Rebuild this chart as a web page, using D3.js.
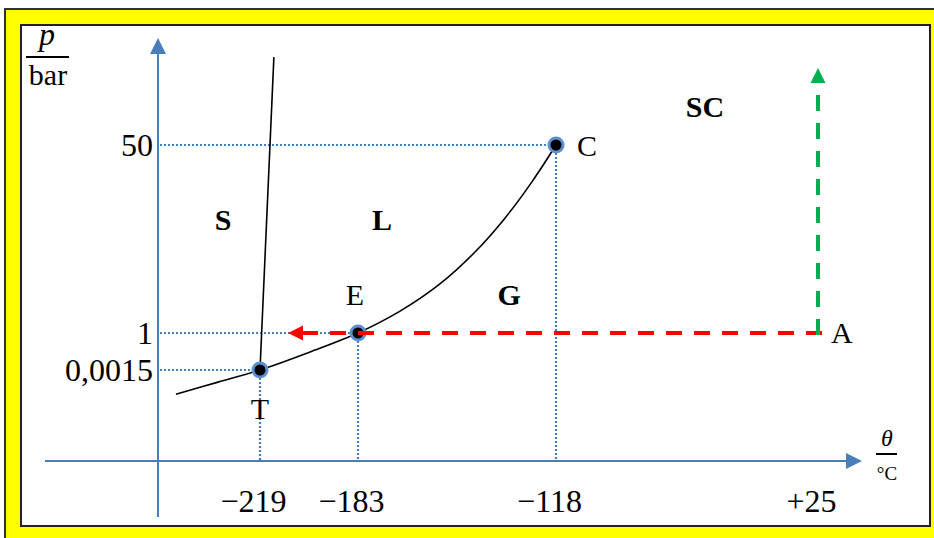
<!DOCTYPE html>
<html>
<head>
<meta charset="utf-8">
<script src="https://cdn.jsdelivr.net/npm/d3@7"></script>
<style>
  body { margin: 0; background: #fff; }
  svg { display: block; font-family: 'Liberation Serif', 'DejaVu Serif', serif; }
</style>
</head>
<body>
<div id="chart"></div>
<script>
// ---- data ----
const xTicks = [-219, -183, -118, 25]
const xTickLabels = ['\u2212219', '\u2212183', '\u2212118', '+25']
const yTicks = [0.0015, 1, 50]
const yTickLabels = ['0,0015', '1', '50']

// named points (temperature in °C, pressure in bar)
const pointNames = ['T', 'E', 'C']
const pointTemps = [-219, -183, -118]
const pointPress = [0.0015, 1, 50]

// solid/gas + liquid/gas boundary
const vapTemps = [-263.5, -241.2, -219, -200.6, -183, -169.2, -156.1, -144.6, -134.7, -125.9, -118]
const vapPress = [0.0011, 0.0013, 0.0015, 0.49, 1, 6.7, 13.8, 22.1, 31.0, 40.4, 50]

// solid/liquid boundary
const meltTemps = [-219, -213.9]
const meltPress = [0.0015, 72.9]

// state A and the two paths from it
const pointA = { t: 25, p: 1 }
const coolTo = -208.7   // isobaric cooling, red
const pressTo = 70.1    // isothermal compression, green

// ---- layout ----
const W = 934
const H = 538
const blue = '#4a7ebb'

const svg = d3.select('#chart').append('svg')
  .attr('width', W)
  .attr('height', H)

// schematic (piecewise) scales
const x = d3.scaleLinear()
  .domain([-273, -219, -183, -118, 25])
  .range([158, 260, 358, 556, 818])
const y = d3.scaleLinear()
  .domain([0, 0.0015, 1, 50])
  .range([461, 370, 333, 145])

// frame
svg.append('rect')
  .attr('x', 5).attr('y', 9)
  .attr('width', W).attr('height', H)
  .attr('fill', '#ffff00')
  .attr('stroke', '#333').attr('stroke-width', 2)
svg.append('rect')
  .attr('x', 21).attr('y', 25)
  .attr('width', 909).attr('height', 501)
  .attr('fill', '#fff')
  .attr('stroke', '#222').attr('stroke-width', 2)

// arrow markers
const defs = svg.append('defs')
function marker(id, color, len, half) {
  defs.append('marker')
    .attr('id', id)
    .attr('markerUnits', 'userSpaceOnUse')
    .attr('markerWidth', len + 2)
    .attr('markerHeight', half * 2 + 2)
    .attr('viewBox', `0 ${-half - 1} ${len + 2} ${half * 2 + 2}`)
    .attr('refX', 0).attr('refY', 0)
    .attr('orient', 'auto')
    .append('path')
    .attr('d', `M0,${-half}L${len},0L0,${half}Z`)
    .attr('fill', color)
}
marker('arrBlue', blue, 16, 8)
marker('arrRed', '#ff0000', 15, 7.5)
marker('arrGreen', '#00b050', 15, 7.5)

// axes lines (with arrows)
const xAxisY = y(0)
const yAxisX = x(-273)
svg.append('line')
  .attr('x1', 45).attr('x2', 846)
  .attr('y1', xAxisY).attr('y2', xAxisY)
  .attr('stroke', blue).attr('stroke-width', 2)
  .attr('marker-end', 'url(#arrBlue)')
svg.append('line')
  .attr('x1', yAxisX).attr('x2', yAxisX)
  .attr('y1', 517).attr('y2', 54)
  .attr('stroke', blue).attr('stroke-width', 2)
  .attr('marker-end', 'url(#arrBlue)')

// tick labels through d3 axes
const xAxis = svg.append('g')
  .attr('transform', `translate(0,${xAxisY})`)
  .call(d3.axisBottom(x)
    .tickValues(xTicks)
    .tickFormat((d, i) => xTickLabels[i])
    .tickSize(0)
    .tickPadding(28))
xAxis.select('.domain').remove()
xAxis.selectAll('text')
  .attr('font-family', 'Liberation Serif, serif')
  .attr('font-size', 32)
  .attr('fill', '#000')
  .attr('dx', -7)

const yAxis = svg.append('g')
  .attr('transform', `translate(${yAxisX},0)`)
  .call(d3.axisLeft(y)
    .tickValues(yTicks)
    .tickFormat((d, i) => yTickLabels[i])
    .tickSize(0)
    .tickPadding(5))
yAxis.select('.domain').remove()
yAxis.selectAll('text')
  .attr('font-family', 'Liberation Serif, serif')
  .attr('font-size', 32)
  .attr('fill', '#000')

// dotted guides to the named points
const guides = svg.append('g')
  .attr('stroke', blue)
  .attr('stroke-width', 2.2)
  .attr('stroke-dasharray', '2,2')
pointTemps.forEach((t, i) => {
  guides.append('line')
    .attr('x1', yAxisX + 2).attr('x2', x(t))
    .attr('y1', y(pointPress[i])).attr('y2', y(pointPress[i]))
  guides.append('line')
    .attr('x1', x(t)).attr('x2', x(t))
    .attr('y1', y(pointPress[i])).attr('y2', xAxisY)
})

// phase boundaries
const vapData = vapTemps.map((t, i) => [t, vapPress[i]])
const meltData = meltTemps.map((t, i) => [t, meltPress[i]])
const line = d3.line()
  .x(d => x(d[0]))
  .y(d => y(d[1]))
svg.append('path')
  .datum(vapData)
  .attr('d', line.curve(d3.curveCatmullRom))
  .attr('fill', 'none')
  .attr('stroke', '#000')
  .attr('stroke-width', 1.6)
svg.append('path')
  .datum(meltData)
  .attr('d', d3.line().x(d => x(d[0])).y(d => y(d[1]))(meltData))
  .attr('fill', 'none')
  .attr('stroke', '#000')
  .attr('stroke-width', 1.6)

// named points
svg.selectAll('.pt')
  .data(pointTemps)
  .enter()
  .append('circle')
  .attr('class', 'pt')
  .attr('cx', d => x(d))
  .attr('cy', (d, i) => y(pointPress[i]))
  .attr('r', 7)
  .attr('fill', '#000')
  .attr('stroke', '#5b8fd0')
  .attr('stroke-width', 3)

// red: isobaric cooling from A
const ax = x(pointA.t)
const ay = y(pointA.p)
svg.append('line')
  .attr('x1', ax + 4).attr('y1', ay)
  .attr('x2', x(coolTo) + 15).attr('y2', ay)
  .attr('stroke', '#ff0000')
  .attr('stroke-width', 4)
  .attr('stroke-dasharray', '16,12')
  .attr('marker-end', 'url(#arrRed)')

// green: isothermal compression from A
svg.append('line')
  .attr('x1', ax).attr('y1', ay + 2)
  .attr('x2', ax).attr('y2', y(pressTo) + 15)
  .attr('stroke', '#00b050')
  .attr('stroke-width', 4)
  .attr('stroke-dasharray', '16,12')
  .attr('marker-end', 'url(#arrGreen)')

// point letters
const letters = svg.append('g')
  .attr('font-size', 30)
  .attr('fill', '#000')
letters.append('text').text(pointNames[0])
  .attr('x', x(pointTemps[0])).attr('y', y(pointPress[0]) + 49)
  .attr('text-anchor', 'middle')
letters.append('text').text(pointNames[1])
  .attr('x', x(pointTemps[1]) - 3).attr('y', y(pointPress[1]) - 28)
  .attr('text-anchor', 'middle')
letters.append('text').text(pointNames[2])
  .attr('x', x(pointTemps[2]) + 21).attr('y', y(pointPress[2]) + 11)
letters.append('text').text('A')
  .attr('x', ax + 13).attr('y', ay + 10)

// phase regions
const regions = [
  ['S', -238.6, 27.8],
  ['L', -175.1, 27.8],
  ['G', -133.4, 8.3],
  ['SC', -36.7, 57.3]
]
svg.append('g')
  .selectAll('text')
  .data(regions)
  .enter()
  .append('text')
  .text(d => d[0])
  .attr('x', d => x(d[1]))
  .attr('y', d => y(d[2]))
  .attr('text-anchor', 'middle')
  .attr('font-size', 30)
  .attr('font-weight', 'bold')

// axis quantity labels (fractions)
const yq = svg.append('g')
yq.append('text').text('p')
  .attr('x', 47).attr('y', 45)
  .attr('text-anchor', 'middle')
  .attr('font-size', 32)
  .attr('font-style', 'italic')
yq.append('line')
  .attr('x1', 26).attr('x2', 69)
  .attr('y1', 57).attr('y2', 57)
  .attr('stroke', '#000').attr('stroke-width', 2)
yq.append('text').text('bar')
  .attr('x', 48).attr('y', 85)
  .attr('text-anchor', 'middle')
  .attr('font-size', 30)

const xq = svg.append('g')
xq.append('text').text('\u03b8')
  .attr('x', 887).attr('y', 446)
  .attr('text-anchor', 'middle')
  .attr('font-size', 24)
  .attr('font-style', 'italic')
xq.append('line')
  .attr('x1', 876).attr('x2', 897)
  .attr('y1', 454).attr('y2', 454)
  .attr('stroke', '#000').attr('stroke-width', 2)
xq.append('text').text('\u00b0C')
  .attr('x', 887).attr('y', 480)
  .attr('text-anchor', 'middle')
  .attr('font-size', 19)
</script>
</body>
</html>
